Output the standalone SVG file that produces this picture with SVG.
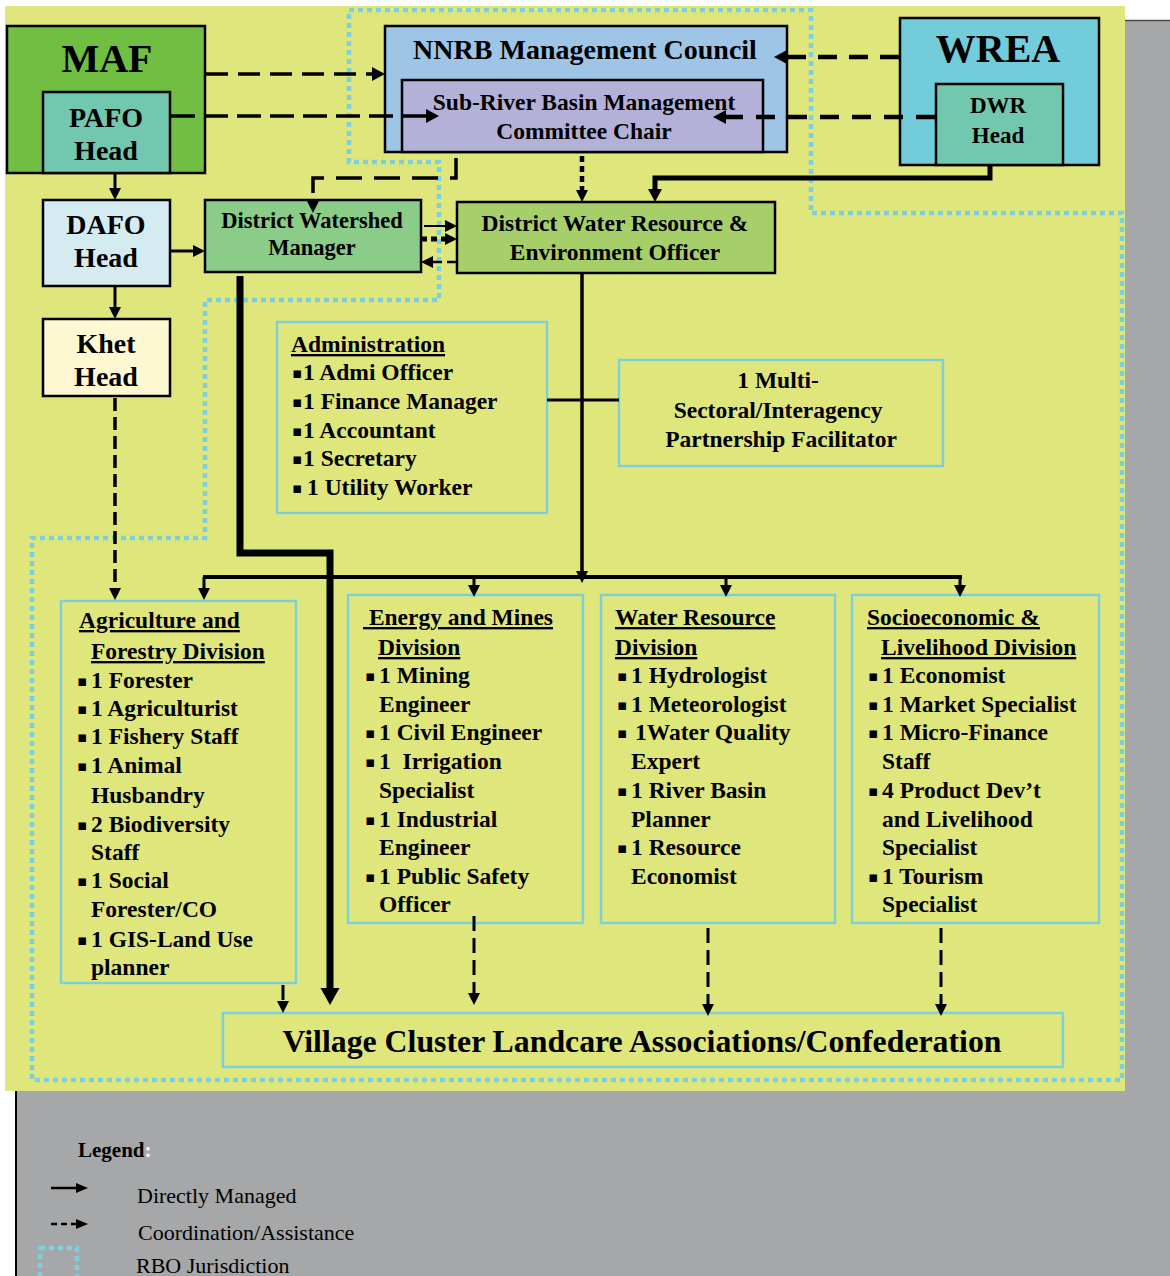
<svg xmlns="http://www.w3.org/2000/svg" width="1170" height="1276" viewBox="0 0 1170 1276">
  <style>
    .t { font-family: "Liberation Serif", "Times New Roman", serif; font-weight: bold; fill: #000; }
    .f23 { font-size: 23.5px; }
    .c { text-anchor: middle; }
    .u { text-decoration: underline; }
    .bul { font-family: "DejaVu Sans", sans-serif; font-size: 15px; font-weight: normal; fill: #000; }
    .lg { font-family: "Liberation Serif", "Times New Roman", serif; font-size: 22px; fill: #000; }
    .bx { stroke: #000; stroke-width: 2.5; }
    .cy { fill: none; stroke: #7dcfdc; stroke-width: 2.4; }
    .rbo { fill: none; stroke: #7ccfdd; stroke-width: 4.5; stroke-dasharray: 5 4; }
    .ln { fill: none; stroke: #000; stroke-linejoin: miter; }
  </style>
  <defs>
    <marker id="a" markerUnits="userSpaceOnUse" markerWidth="12" markerHeight="12" refX="0" refY="6" orient="auto" overflow="visible">
      <path d="M0,0 L12,6 L0,12 z" fill="#000"/>
    </marker>
    <marker id="aM" markerUnits="userSpaceOnUse" markerWidth="13" markerHeight="14" refX="0" refY="7" orient="auto" overflow="visible">
      <path d="M0,0 L13,7 L0,14 z" fill="#000"/>
    </marker>
    <marker id="aB" markerUnits="userSpaceOnUse" markerWidth="17" markerHeight="19" refX="0" refY="9.5" orient="auto" overflow="visible">
      <path d="M0,0 L17,9.5 L0,19 z" fill="#000"/>
    </marker>
    <marker id="aS" markerUnits="userSpaceOnUse" markerWidth="12" markerHeight="10" refX="0" refY="5" orient="auto" overflow="visible">
      <path d="M0,0 L12,5 L0,10 z" fill="#000"/>
    </marker>
  </defs>

  <!-- page background -->
  <rect width="1170" height="1276" fill="#ffffff"/>
  <rect x="1125" y="20" width="45" height="1256" fill="#a6a7a9"/>
  <rect x="16" y="1091" width="1154" height="185" fill="#a6a7a9"/>
  <line x1="1125" y1="20.5" x2="1170" y2="20.5" stroke="#4a4a4a" stroke-width="1.5"/>
  <line x1="16" y1="1091" x2="16" y2="1276" stroke="#000" stroke-width="2"/>
  <rect x="5" y="6" width="1120" height="1085" fill="#dfe67c"/>

  <!-- RBO jurisdiction outline -->
  <path class="rbo" d="M349,10 H811 V213 H1122 V1080 H32 V538 H205 V300 H439 V162 H349 Z"/>

  <!-- top-level bodies -->
  <g id="maf">
    <rect class="bx" x="7" y="26" width="198" height="147" fill="#70bf42"/>
    <text class="t c" x="107" y="72" font-size="40">MAF</text>
  </g>
  <g id="pafo-head">
    <rect class="bx" x="43" y="92" width="127" height="81" fill="#72c8ae"/>
    <text class="t c" x="106" y="127" font-size="28">PAFO</text>
    <text class="t c" x="106" y="160" font-size="28">Head</text>
  </g>
  <g id="dafo-head">
    <rect class="bx" x="43" y="200" width="127" height="86" fill="#d4ecf1"/>
    <text class="t c" x="106" y="234" font-size="28">DAFO</text>
    <text class="t c" x="106" y="267" font-size="28">Head</text>
  </g>
  <g id="khet-head">
    <rect class="bx" x="43" y="319" width="127" height="77" fill="#fdf8d2"/>
    <text class="t c" x="106" y="353" font-size="28">Khet</text>
    <text class="t c" x="106" y="386" font-size="28">Head</text>
  </g>
  <g id="nnrb-council">
    <rect class="bx" x="385" y="26" width="402" height="126" fill="#9ec4e6"/>
    <text class="t c" x="585" y="59" font-size="28">NNRB Management Council</text>
  </g>
  <g id="sub-basin-chair">
    <rect class="bx" x="402" y="80" width="361" height="72" fill="#b3b1d8"/>
    <text class="t c" x="584" y="110" font-size="23.5">Sub-River Basin Management</text>
    <text class="t c" x="584" y="139" font-size="23.5">Committee Chair</text>
  </g>
  <g id="wrea">
    <rect class="bx" x="900" y="18" width="199" height="147" fill="#72ccd9"/>
    <text class="t c" x="998" y="62" font-size="40">WREA</text>
  </g>
  <g id="dwr-head">
    <rect class="bx" x="936" y="84" width="127" height="81" fill="#72c8ae"/>
    <text class="t c" x="998" y="113" font-size="23">DWR</text>
    <text class="t c" x="998" y="143" font-size="23">Head</text>
  </g>
  <g id="district-watershed-manager">
    <rect class="bx" x="205" y="200" width="216" height="72" fill="#8acc88"/>
    <text class="t c" x="312" y="228" font-size="22.5">District Watershed</text>
    <text class="t c" x="312" y="255" font-size="22.5">Manager</text>
  </g>
  <g id="district-water-officer">
    <rect class="bx" x="457" y="202" width="318" height="71" fill="#a6cf6a"/>
    <text class="t c" x="615" y="231" font-size="23.5">District Water Resource &amp;</text>
    <text class="t c" x="615" y="260" font-size="23.5">Environment Officer</text>
  </g>

  <!-- staff units -->
  <g id="administration">
    <rect class="cy" x="277" y="322" width="270" height="191"/>
    <text class="t f23 u" x="291" y="352">Administration</text>
    <text class="bul">
      <tspan x="292" y="378">▪</tspan><tspan x="292" y="407">▪</tspan><tspan x="292" y="436">▪</tspan><tspan x="292" y="464">▪</tspan><tspan x="292" y="493">▪</tspan>
    </text>
    <text class="t f23">
      <tspan x="303" y="380">1 Admi Officer</tspan>
      <tspan x="303" y="409">1 Finance Manager</tspan>
      <tspan x="303" y="438">1 Accountant</tspan>
      <tspan x="303" y="466">1 Secretary</tspan>
      <tspan x="307" y="495">1 Utility Worker</tspan>
    </text>
  </g>
  <g id="partnership-facilitator">
    <rect class="cy" x="619" y="360" width="324" height="106"/>
    <text class="t f23 c">
      <tspan x="781" y="388">1 Multi-</tspan>
      <tspan x="781" y="418">Sectoral/Interagency</tspan>
      <tspan x="781" y="447">Partnership Facilitator</tspan>
    </text>
  </g>

  <!-- divisions -->
  <g id="agri-forestry-division">
    <rect class="cy" x="61" y="601" width="235" height="382"/>
    <text class="t f23 u" x="79" y="628">Agriculture and</text>
    <text class="t f23 u" x="91" y="659">Forestry Division</text>
    <text class="bul">
      <tspan x="77" y="686">▪</tspan><tspan x="77" y="714">▪</tspan><tspan x="77" y="742">▪</tspan><tspan x="77" y="771">▪</tspan><tspan x="77" y="830">▪</tspan><tspan x="77" y="886">▪</tspan><tspan x="77" y="945">▪</tspan>
    </text>
    <text class="t f23">
      <tspan x="91" y="688">1 Forester</tspan>
      <tspan x="91" y="716">1 Agriculturist</tspan>
      <tspan x="91" y="744">1 Fishery Staff</tspan>
      <tspan x="91" y="773">1 Animal</tspan>
      <tspan x="91" y="803">Husbandry</tspan>
      <tspan x="91" y="832">2 Biodiversity</tspan>
      <tspan x="91" y="860">Staff</tspan>
      <tspan x="91" y="888">1 Social</tspan>
      <tspan x="91" y="917">Forester/CO</tspan>
      <tspan x="91" y="947">1 GIS-Land Use</tspan>
      <tspan x="91" y="975">planner</tspan>
    </text>
  </g>
  <g id="energy-mines-division">
    <rect class="cy" x="348" y="595" width="235" height="328"/>
    <text class="t f23 u" x="363" y="625" xml:space="preserve"> Energy and Mines</text>
    <text class="t f23 u" x="378" y="655">Division</text>
    <text class="bul">
      <tspan x="365" y="681">▪</tspan><tspan x="365" y="738">▪</tspan><tspan x="365" y="767">▪</tspan><tspan x="365" y="825">▪</tspan><tspan x="365" y="882">▪</tspan>
    </text>
    <text class="t f23">
      <tspan x="379" y="683">1 Mining</tspan>
      <tspan x="379" y="712">Engineer</tspan>
      <tspan x="379" y="740">1 Civil Engineer</tspan>
      <tspan x="379" y="798">Specialist</tspan>
      <tspan x="379" y="827">1 Industrial</tspan>
      <tspan x="379" y="855">Engineer</tspan>
      <tspan x="379" y="884">1 Public Safety</tspan>
      <tspan x="379" y="912">Officer</tspan>
    </text>
    <text class="t f23" x="379" y="769" xml:space="preserve">1  Irrigation</text>
  </g>
  <g id="water-resource-division">
    <rect class="cy" x="601" y="595" width="234" height="328"/>
    <text class="t f23 u" x="615" y="625">Water Resource</text>
    <text class="t f23 u" x="615" y="655">Division</text>
    <text class="bul">
      <tspan x="617" y="681">▪</tspan><tspan x="617" y="710">▪</tspan><tspan x="617" y="738">▪</tspan><tspan x="617" y="796">▪</tspan><tspan x="617" y="853">▪</tspan>
    </text>
    <text class="t f23">
      <tspan x="631" y="683">1 Hydrologist</tspan>
      <tspan x="631" y="712">1 Meteorologist</tspan>
      <tspan x="635" y="740">1Water Quality</tspan>
      <tspan x="631" y="769">Expert</tspan>
      <tspan x="631" y="798">1 River Basin</tspan>
      <tspan x="631" y="827">Planner</tspan>
      <tspan x="631" y="855">1 Resource</tspan>
      <tspan x="631" y="884">Economist</tspan>
    </text>
  </g>
  <g id="socioeconomic-division">
    <rect class="cy" x="852" y="595" width="247" height="328"/>
    <text class="t f23 u" x="867" y="625">Socioeconomic &amp;</text>
    <text class="t f23 u" x="881" y="655">Livelihood Division</text>
    <text class="bul">
      <tspan x="868" y="681">▪</tspan><tspan x="868" y="710">▪</tspan><tspan x="868" y="738">▪</tspan><tspan x="868" y="796">▪</tspan><tspan x="868" y="882">▪</tspan>
    </text>
    <text class="t f23">
      <tspan x="882" y="683">1 Economist</tspan>
      <tspan x="882" y="712">1 Market Specialist</tspan>
      <tspan x="882" y="740">1 Micro-Finance</tspan>
      <tspan x="882" y="769">Staff</tspan>
      <tspan x="882" y="798">4 Product Dev’t</tspan>
      <tspan x="882" y="827">and Livelihood</tspan>
      <tspan x="882" y="855">Specialist</tspan>
      <tspan x="882" y="884">1 Tourism</tspan>
      <tspan x="882" y="912">Specialist</tspan>
    </text>
  </g>
  <g id="village-landcare">
    <rect class="cy" x="223" y="1013" width="840" height="54"/>
    <text class="t c" x="642" y="1052" font-size="31" textLength="719" lengthAdjust="spacingAndGlyphs">Village Cluster Landcare Associations/Confederation</text>
  </g>

  <!-- connectors -->
  <g id="connectors">
    <!-- coordination / assistance (dashed) -->
    <path class="ln" d="M206,74 H372" stroke-width="3.5" stroke-dasharray="22 10" marker-end="url(#aM)"/>
    <path class="ln" d="M171,116 H426" stroke-width="3.5" stroke-dasharray="24 9" marker-end="url(#aM)"/>
    <path class="ln" d="M899,57 H787" stroke-width="4.5" stroke-dasharray="19 12" marker-end="url(#aM)"/>
    <path class="ln" d="M935,117 H726" stroke-width="4.5" stroke-dasharray="19 13" marker-end="url(#aM)"/>
    <path class="ln" d="M456,158 V178 H313 V201" stroke-width="3.5" stroke-dasharray="26 12" marker-end="url(#a)"/>
    <path class="ln" d="M582,156 V190" stroke-width="4.5" stroke-dasharray="6 4" marker-end="url(#a)"/>
    <path class="ln" d="M421,239 H445" stroke-width="5" stroke-dasharray="6 4" marker-end="url(#a)"/>
    <path class="ln" d="M457,262 H433" stroke-width="2.5" stroke-dasharray="10 5" marker-end="url(#a)"/>
    <path class="ln" d="M115,398 V588" stroke-width="3.5" stroke-dasharray="13 6" marker-end="url(#a)"/>
    <path class="ln" d="M283,985 V1001" stroke-width="3" stroke-dasharray="15 7" marker-end="url(#a)"/>
    <path class="ln" d="M474,916 V993" stroke-width="3" stroke-dasharray="15 7" marker-end="url(#a)"/>
    <path class="ln" d="M708,928 V1004" stroke-width="3" stroke-dasharray="15 7" marker-end="url(#a)"/>
    <path class="ln" d="M941,928 V1004" stroke-width="3" stroke-dasharray="15 7" marker-end="url(#a)"/>

    <!-- direct management (solid) -->
    <path class="ln" d="M990,165 V178 H655 V189" stroke-width="5" marker-end="url(#aM)"/>
    <path class="ln" d="M424,226 H445" stroke-width="2" marker-end="url(#a)"/>
    <path class="ln" d="M115,173 V188" stroke-width="3" marker-end="url(#a)"/>
    <path class="ln" d="M115,286 V307" stroke-width="3" marker-end="url(#a)"/>
    <path class="ln" d="M170,251 H193" stroke-width="3" marker-end="url(#a)"/>
    <path class="ln" d="M547,400 H619" stroke-width="3"/>
    <path class="ln" d="M582,273 V571" stroke-width="3.5" marker-end="url(#a)"/>
    <path class="ln" d="M203,577 H962" stroke-width="4"/>
    <path class="ln" d="M204,577 V588" stroke-width="3" marker-end="url(#a)"/>
    <path class="ln" d="M474,577 V585" stroke-width="3" marker-end="url(#a)"/>
    <path class="ln" d="M726,577 V585" stroke-width="3" marker-end="url(#a)"/>
    <path class="ln" d="M960,577 V585" stroke-width="3" marker-end="url(#a)"/>
    <path class="ln" d="M240,276 V553 H330 V988" stroke-width="7" marker-end="url(#aB)"/>
  </g>

  <!-- legend -->
  <g id="legend">
    <text class="t" x="78" y="1157" font-size="21">Legend<tspan fill="#ffffff">:</tspan></text>
    <path class="ln" d="M51,1188 H76" stroke-width="2.5" marker-end="url(#aS)"/>
    <path class="ln" d="M51,1224 H76" stroke-width="2.5" stroke-dasharray="6 4" marker-end="url(#aS)"/>
    <rect class="rbo" x="40" y="1248" width="37" height="45"/>
    <text class="lg" x="137" y="1203">Directly Managed</text>
    <text class="lg" x="138" y="1240">Coordination/Assistance</text>
    <text class="lg" x="136" y="1273">RBO Jurisdiction</text>
  </g>
</svg>
